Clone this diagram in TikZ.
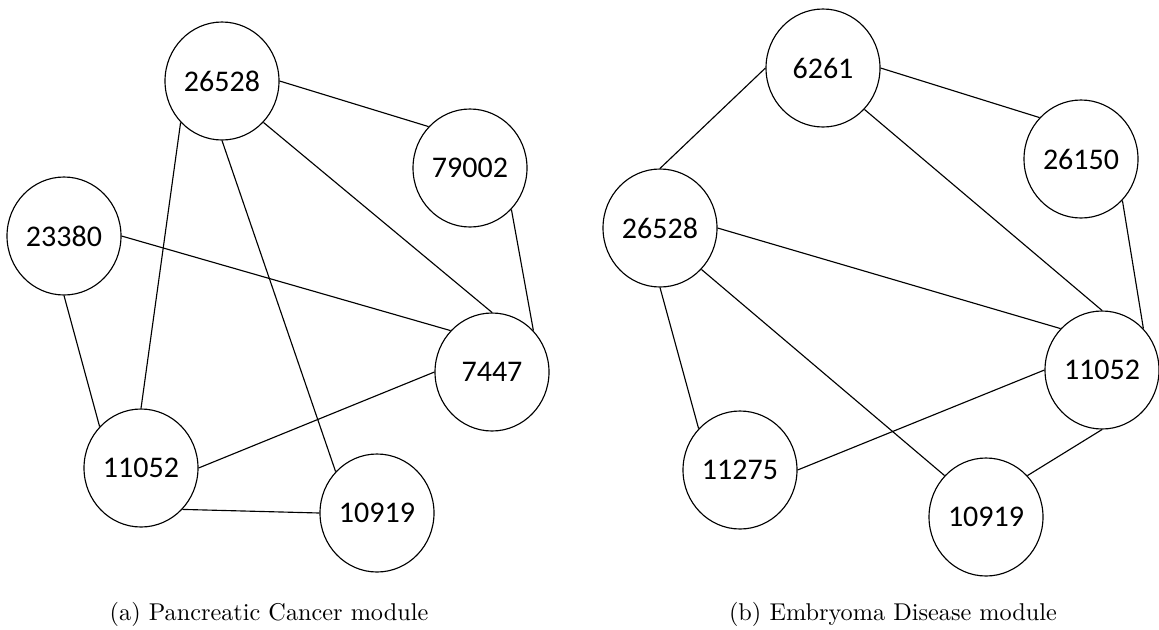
\documentclass[tikz,border=0pt]{standalone}
\usepackage{fontspec}
\newfontfamily\genefont{Carlito}
\usetikzlibrary{shapes.geometric}
\begin{document}
\begin{tikzpicture}[x=0.75pt,y=-0.75pt,
  gene/.style={ellipse,draw=black,line width=0.85pt,fill=white,
    minimum width=85.5pt,minimum height=88.5pt,inner sep=0pt,
    font=\genefont\fontsize{22.5}{27}\selectfont},
  link/.style={draw=black,line width=0.85pt},
  subcaption/.style={inner sep=0pt,font=\fontsize{10}{12}\selectfont,scale=1.82}]
\useasboundingbox (0,0) rectangle (1159,629);

% (a) Pancreatic Cancer module
\node[gene] (pA) at (222,81)  {26528};
\node[gene] (pB) at (470,168) {79002};
\node[gene] (pC) at (64,236)  {23380};
\node[gene] (pD) at (492,372) {7447};
\node[gene] (pE) at (141,468) {11052};
\node[gene] (pF) at (377,513) {10919};

\draw[link] (pA.0)   -- (pB.135);
\draw[link] (pA.225) -- (pE.90);
\draw[link] (pA.270) -- (pF.135);
\draw[link] (pA.315) -- (pD.90);
\draw[link] (pB.315) -- (pD.45);
\draw[link] (pC.0)   -- (pD.135);
\draw[link] (pC.270) -- (pE.135);
\draw[link] (pE.0)   -- (pD.180);
\draw[link] (pE.315) -- (pF.180);

\node[subcaption] (capA) at (269,614) {(a) Pancreatic Cancer module};

% (b) Embryoma Disease module
\node[gene] (eA) at (823,68)   {6261};
\node[gene] (eB) at (1081,159) {26150};
\node[gene] (eC) at (660,228)  {26528};
\node[gene] (eD) at (1102,370) {11052};
\node[gene] (eE) at (740,470)  {11275};
\node[gene] (eF) at (986,517)  {10919};

\draw[link] (eA.0)   -- (eB.135);
\draw[link] (eA.180) -- (eC.90);
\draw[link] (eA.315) -- (eD.90);
\draw[link] (eB.315) -- (eD.45);
\draw[link] (eC.0)   -- (eD.135);
\draw[link] (eC.270) -- (eE.135);
\draw[link] (eC.315) -- (eF.135);
\draw[link] (eE.0)   -- (eD.180);
\draw[link] (eF.45)  -- (eD.270);

\node[subcaption] (capB) at (893,614) {(b) Embryoma Disease module};
\end{tikzpicture}
\end{document}
